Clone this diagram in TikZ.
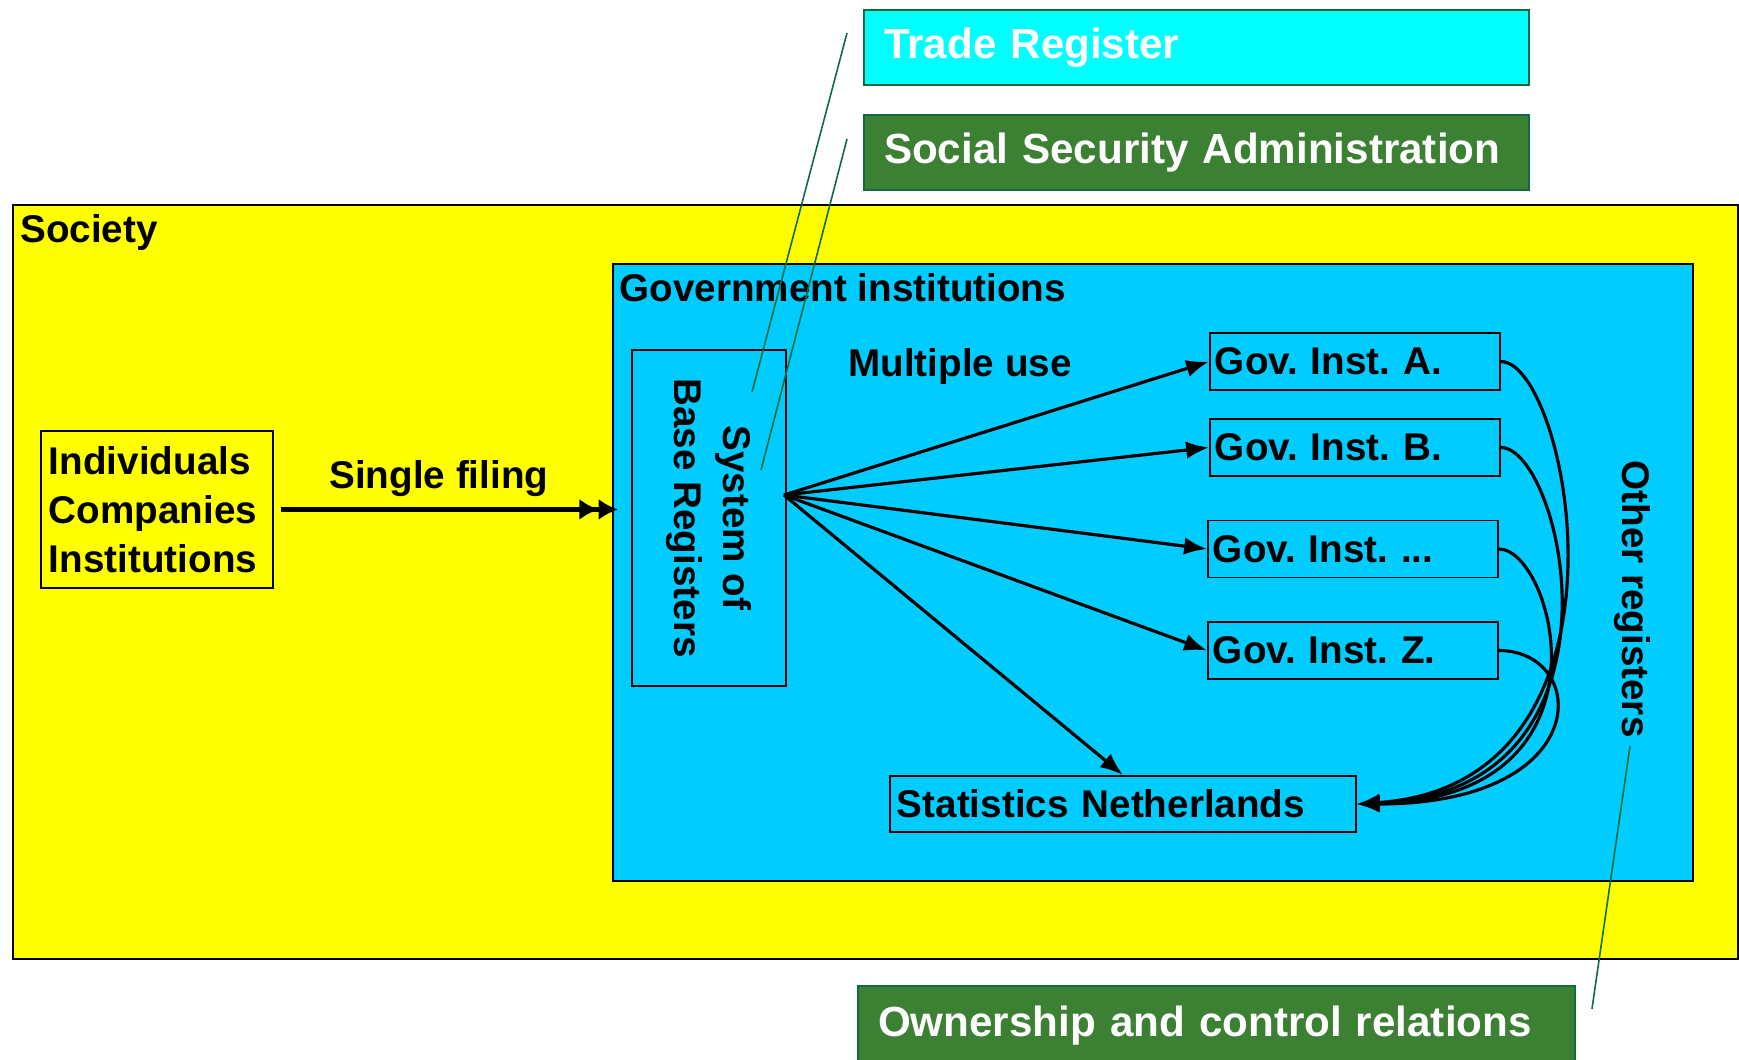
\documentclass[tikz,border=0pt]{standalone}
\usepackage{fontspec}
\setmainfont{Liberation Sans}
\usetikzlibrary{arrows.meta}
\definecolor{societyyellow}{HTML}{FFFF00}
\definecolor{govblue}{HTML}{00CCFF}
\definecolor{tradecyan}{HTML}{00FFFF}
\definecolor{ssagreen}{HTML}{3C8033}
\definecolor{leadgreen}{HTML}{0E6B3C}
\begin{document}
\frenchspacing
\begin{tikzpicture}[x=0.02cm,y=-0.02cm,
    lbl/.style={font=\fontsize{22}{28}\selectfont\bfseries},
    regbox/.style={draw=leadgreen,line width=1.2pt,text=white,font=\fontsize{24}{28}\selectfont\bfseries,
      text width=12.5cm,inner xsep=0.4cm,align=left,minimum height=1.5cm,anchor=north west},
    govbox/.style={lbl,draw,fill=govblue,line width=1.1pt,text width=5.6cm,inner xsep=0.1cm,
      minimum height=1.14cm,align=left,anchor=west},
    flow/.style={line width=1.8pt,-{Latex[length=13pt,width=10pt]}},
    leader/.style={leadgreen,line width=0.9pt}]
    \tikzstyle{every node}+=[inner sep=0pt]
    \useasboundingbox (0,0) rectangle (1739,1059);
    \clip (0,0) rectangle (1739,1059);
    \node [draw,fill=societyyellow,line width=1.2pt,minimum width=34.5cm,minimum height=15.08cm,anchor=north west] (soc) at (12,204) {};
    \node [lbl,anchor=base west] (soclbl) at (20,242) {Society};
    \node [draw,fill=govblue,line width=1.2pt,minimum width=21.6cm,minimum height=12.34cm,anchor=north west] (gov) at (612,263) {};
    \node [lbl,anchor=base west] (govlbl) at (619,301) {Government institutions};
    \node [lbl,draw,line width=1.1pt,text width=4.32cm,inner xsep=0.16cm,minimum height=3.14cm,align=left,anchor=north west] (ind) at (40,430) {Individuals\\Companies\\Institutions};
    \node [lbl,draw,line width=1.1pt,rotate=-90,minimum width=6.72cm,minimum height=3.08cm,align=center] (sbr) at (709,518) {System of\\Base Registers};
    \node [lbl,anchor=base west] (single) at (329,488) {Single filing};
    \node [lbl,anchor=base west] (multi) at (848,376) {Multiple use};
    \node [govbox] (ga) at (1209,361.5) {Gov. Inst. A.};
    \node [govbox] (gb) at (1209,447.5) {Gov. Inst. B.};
    \node [govbox] (gx) at (1207,549) {Gov. Inst. ...};
    \node [govbox] (gz) at (1207,650.5) {Gov. Inst. Z.};
    \node [lbl,draw,fill=govblue,line width=1.1pt,text width=9.04cm,inner xsep=0.14cm,minimum height=1.12cm,align=left,anchor=west] (stat) at (889,804) {Statistics Netherlands};
    \node [lbl,rotate=-90] (oreg) at (1632,599) {Other registers};
    \node [regbox,fill=tradecyan] (tr) at (863,9) {Trade Register};
    \node [regbox,fill=ssagreen] (ssa) at (863,114) {Social Security Administration};
    \node [regbox,fill=ssagreen,text width=13.54cm,minimum height=1.6cm] (own) at (857,985) {Ownership and control relations};
    \coordinate (fan) at (784,495);
    \draw [line width=2.6pt,-{Latex[length=11pt,width=12pt]Latex[length=11pt,width=12pt]},shorten <=0.14cm,shorten >=0.26cm] (ind.east) -- (ind.east -| sbr.south);
    \foreach \g in {ga,gb,gx,gz}
        \draw [flow] (fan) -- (\g.west);
    \draw [flow] (fan) -- (stat.north);
    \draw [flow] (ga.east) .. controls +(68,0) and +(295,-20) .. (stat.east);
    \draw [flow] (gb.east) .. controls +(62,0) and +(285,-12) .. (stat.east);
    \draw [flow] (gx.east) .. controls +(55,0) and +(265,-6) .. (stat.east);
    \draw [flow] (gz.east) .. controls +(90,0) and +(240,0) .. (stat.east);
    \coordinate (trtip) at (752,392);
    \coordinate (ssatip) at (761,470);
    \coordinate (oregtip) at (1630,746);
    \draw [leader] ([shift={(-16,24)}]tr.north west) -- (trtip);
    \draw [leader] ([shift={(-16,25)}]ssa.north west) -- (ssatip);
    \draw [leader] (oregtip) -- ([shift={(16,24)}]own.north east);
\end{tikzpicture}
\end{document}
